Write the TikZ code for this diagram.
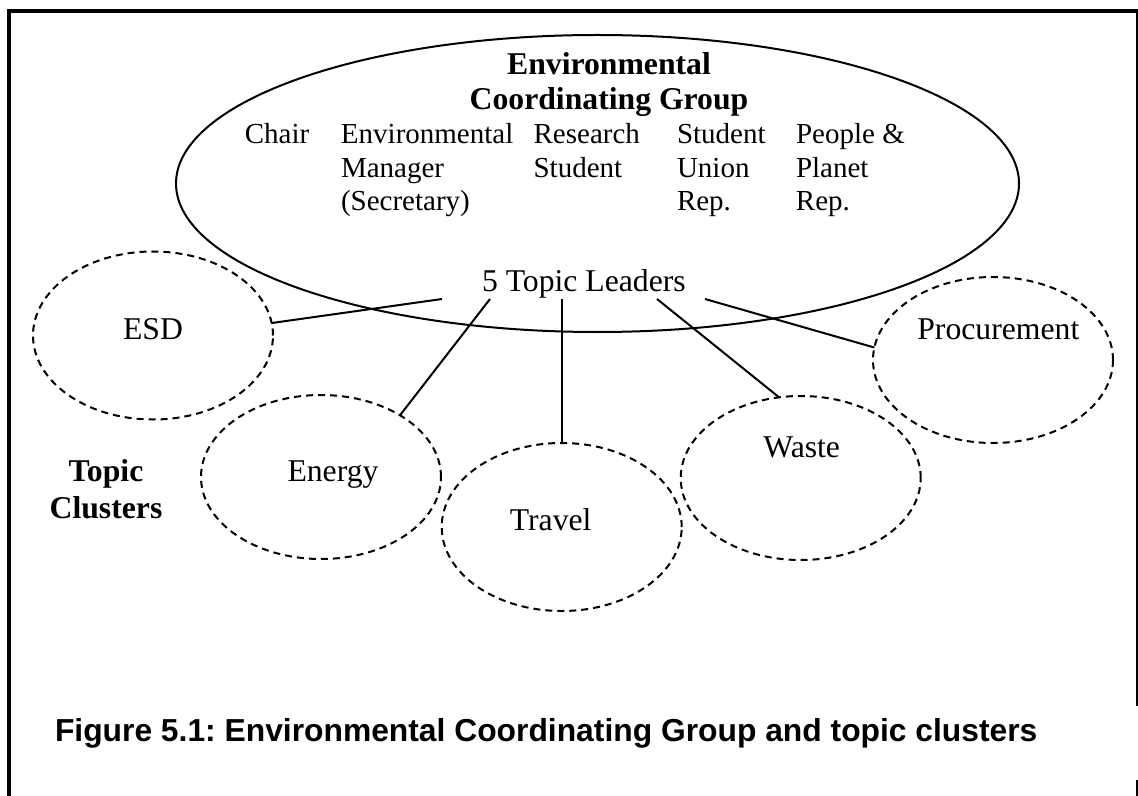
\documentclass[tikz,border=0pt]{standalone}
\usepackage{fontspec}
\setmainfont{Liberation Serif}
\newfontfamily\capfont{Liberation Sans}
\usetikzlibrary{shapes.geometric}
\begin{document}
\frenchspacing
\setlength{\tabcolsep}{0pt}
\begin{tikzpicture}[x=0.5pt,y=-0.5pt,
  every node/.style={inner sep=0pt, outer sep=0pt},
  group/.style={draw, ellipse, line width=1pt, minimum width=421.5pt, minimum height=148.5pt},
  cluster/.style={draw, ellipse, dash pattern=on 3.5pt off 2.5pt, line width=1pt,
                  minimum width=120pt, minimum height=84pt},
  txt/.style={font=\fontsize{15.85}{18}\selectfont, anchor=base},
  link/.style={line width=1pt},
  heavy/.style={line width=2pt},
  thin/.style={line width=1pt}
]
\useasboundingbox (0,0) rectangle (1138,796);

% page frame
\draw[heavy] (8.8,796) -- (8.8,11.3) -- (1138,11.3);
\draw[thin] (1137,11.3) -- (1137,706);
\draw[thin] (1137,780) -- (1137,796);

% coordinating group
\node[group] (ecg) at (597.5,183.5) {};
\node[font=\fontsize{15.85}{17.5}\selectfont\bfseries, anchor=base] (title) at (609,75)
  {\begin{tabular}[t]{c}Environmental\\Coordinating Group\end{tabular}};
\node[font=\fontsize{14.5}{16.75}\selectfont, anchor=base west] (members) at (244.8,144)
  {\begin{tabular}[t]{p{48.1pt}p{96.3pt}p{71.7pt}p{59.5pt}l}
   Chair & Environmental & Research & Student & People \&\\
         & Manager       & Student  & Union   & Planet\\
         & (Secretary)   &          & Rep.    & Rep.
   \end{tabular}};
\node[font=\fontsize{15.85}{18}\selectfont, anchor=base west] (leaders) at (482,292) {5 Topic Leaders};

% topic clusters
\node[cluster] (esd) at (153,335.5) {};
\node[cluster, minimum height=82pt] (energy) at (321,477) {};
\node[cluster] (travel) at (561.7,527) {};
\node[cluster, minimum height=82pt] (waste) at (800.7,478) {};
\node[cluster, minimum height=83pt] (proc) at (993,360) {};

\node[txt] (esdlabel) at (153,339.3) {ESD};
\node[txt] (energylabel) at (333,481.7) {Energy};
\node[txt] (travellabel) at (550.7,530.7) {Travel};
\node[txt] (wastelabel) at (801.7,457.7) {Waste};
\node[txt] (proclabel) at (998.3,339.3) {Procurement};

\node[font=\fontsize{15.85}{18.5}\selectfont\bfseries, anchor=base] (clusters) at (106,481.7)
  {\begin{tabular}[t]{c}Topic\\Clusters\end{tabular}};

% links from the topic leaders to their clusters
\coordinate (l1) at (442,299);
\coordinate (l2) at (490,299);
\coordinate (l3) at (561.7,299);
\coordinate (l4) at (657,299);
\coordinate (l5) at (705,299);
\draw[link] (l1) -- (esd.6);
\draw[link] (l2) -- (energy.38);
\draw[link] (l3) -- (travel.north);
\draw[link] (l4) -- (waste.105);
\draw[link] (l5) -- (proc.174);

% caption
\node[font=\capfont\bfseries\fontsize{15.9}{19}\selectfont, anchor=base west] (caption) at (55,741)
  {Figure 5.1: Environmental Coordinating Group and topic clusters};
\end{tikzpicture}
\end{document}
